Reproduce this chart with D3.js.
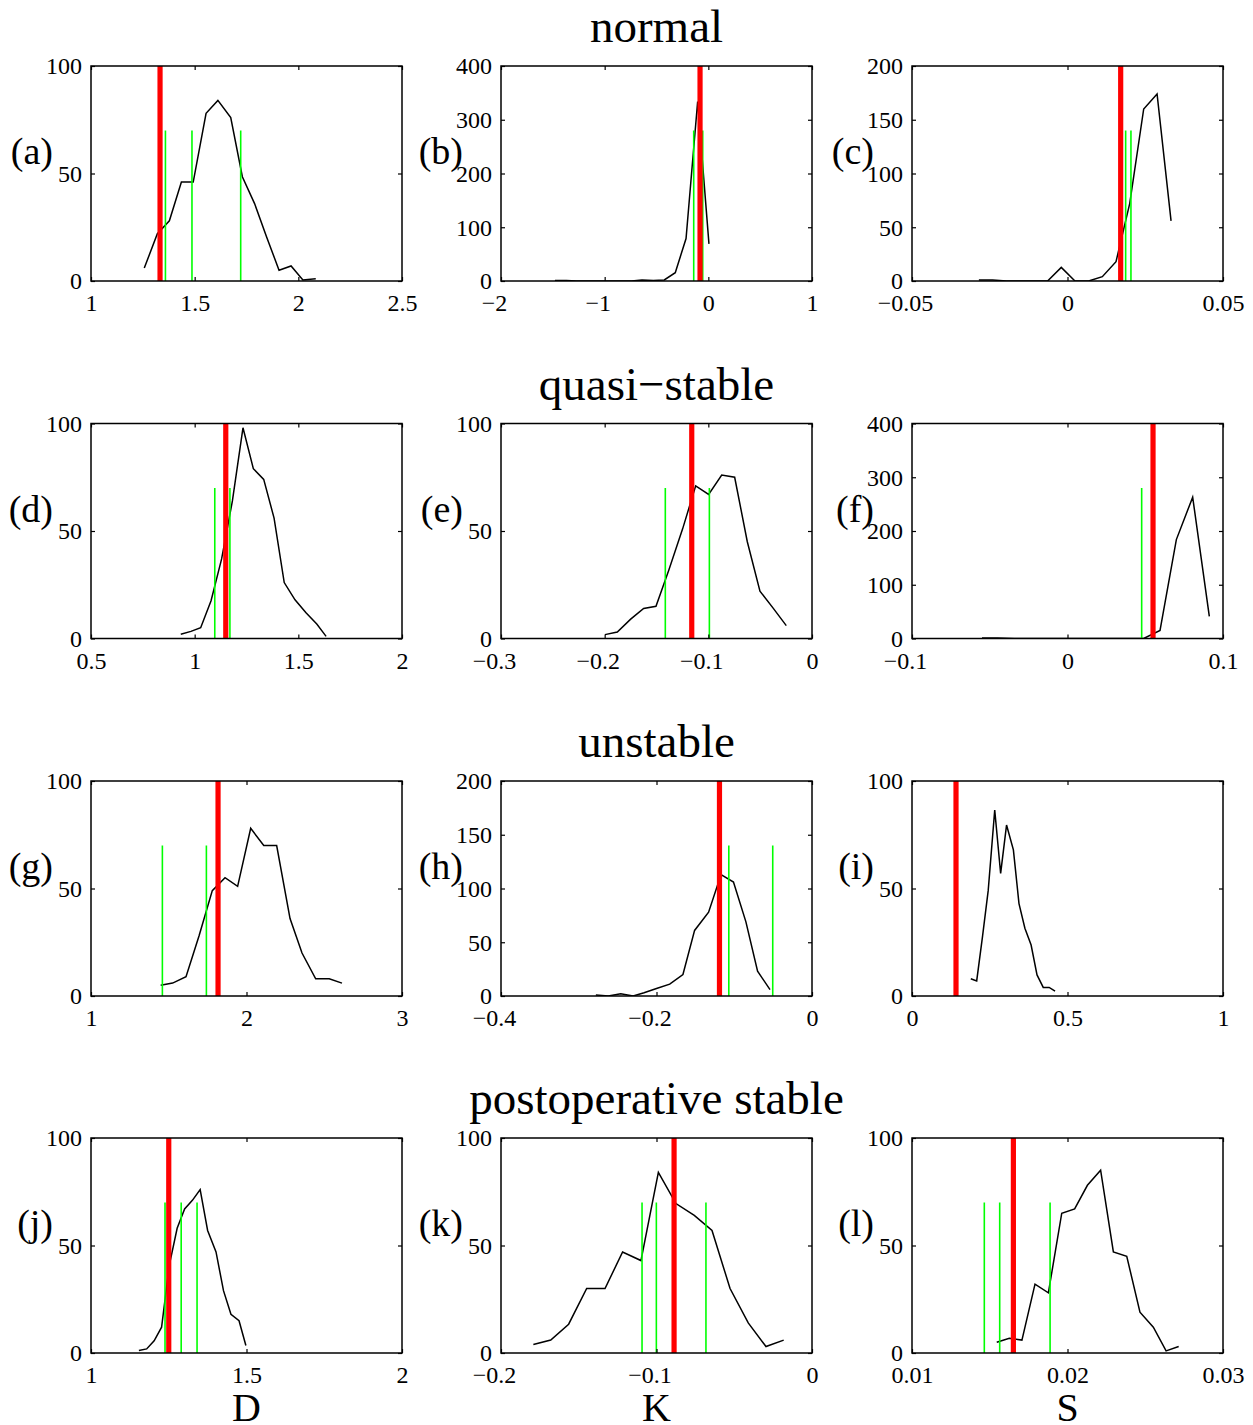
<!DOCTYPE html>
<html>
<head>
<meta charset="utf-8">
<script src="https://cdn.jsdelivr.net/npm/d3@7"></script>
<style>
  html, body { margin: 0; padding: 0; background: #fff; }
  svg { display: block; }
  text { font-family: "Liberation Serif", "Times New Roman", serif; fill: #000; }
</style>
</head>
<body>
<svg id="chart" width="1253" height="1425"></svg>
<script>
// ---------- data ----------
const rowTitles = ["normal", "quasi\u2212stable", "unstable", "postoperative stable"];
const colLabels = ["D", "K", "S"];
const panelLabels = ["(a)", "(b)", "(c)", "(d)", "(e)", "(f)", "(g)", "(h)", "(i)", "(j)", "(k)", "(l)"];

// x domains and tick values per panel
const xDomains = [[1, 2.5], [-2, 1], [-0.05, 0.05],
                  [0.5, 2], [-0.3, 0], [-0.1, 0.1],
                  [1, 3], [-0.4, 0], [0, 1],
                  [1, 2], [-0.2, 0], [0.01, 0.03]];
const xTickValues = [[1, 1.5, 2, 2.5], [-2, -1, 0, 1], [-0.05, 0, 0.05],
                     [0.5, 1, 1.5, 2], [-0.3, -0.2, -0.1, 0], [-0.1, 0, 0.1],
                     [1, 2, 3], [-0.4, -0.2, 0], [0, 0.5, 1],
                     [1, 1.5, 2], [-0.2, -0.1, 0], [0.01, 0.02, 0.03]];
const xTickLabels = [["1", "1.5", "2", "2.5"], ["\u22122", "\u22121", "0", "1"], ["\u22120.05", "0", "0.05"],
                     ["0.5", "1", "1.5", "2"], ["\u22120.3", "\u22120.2", "\u22120.1", "0"], ["\u22120.1", "0", "0.1"],
                     ["1", "2", "3"], ["\u22120.4", "\u22120.2", "0"], ["0", "0.5", "1"],
                     ["1", "1.5", "2"], ["\u22120.2", "\u22120.1", "0"], ["0.01", "0.02", "0.03"]];
const yMax = [100, 400, 200, 100, 100, 400, 100, 200, 100, 100, 100, 100];
const yTickValues = [[0, 50, 100], [0, 100, 200, 300, 400], [0, 50, 100, 150, 200],
                     [0, 50, 100], [0, 50, 100], [0, 100, 200, 300, 400],
                     [0, 50, 100], [0, 50, 100, 150, 200], [0, 50, 100],
                     [0, 50, 100], [0, 50, 100], [0, 50, 100]];

// histogram curves (bin centres, counts)
const binsA = [1.257, 1.320, 1.378, 1.436, 1.493, 1.555, 1.612, 1.674, 1.730, 1.789, 1.847, 1.907, 1.965, 2.022, 2.084];
const countsA = [6, 22, 28, 46, 46, 78, 84, 76, 48.5, 36, 20.5, 5, 7, 0.5, 1];
const binsB = [-1.48, -1.37, -1.27, -1.16, -1.06, -0.95, -0.85, -0.74, -0.64, -0.53, -0.425, -0.319, -0.215, -0.103, 0.006];
const countsB = [1, 1, 0, 0, 0, 0, 0, 0, 2, 1, 2, 15.5, 79, 334, 69];
const binsC = [-0.0285, -0.0241, -0.0196, -0.0152, -0.0108, -0.0064, -0.0020, 0.0024, 0.0068, 0.0112, 0.0156, 0.0200, 0.0245, 0.0288, 0.0333];
const countsC = [1, 1, 0, 0, 0, 0, 12.7, 0, 0, 4, 18, 72, 160, 174, 56];
const binsD = [0.933, 0.982, 1.029, 1.079, 1.130, 1.182, 1.233, 1.283, 1.333, 1.383, 1.432, 1.484, 1.537, 1.589, 1.634];
const countsD = [2, 3.3, 5, 17.6, 37, 64, 98, 79, 74, 56, 26, 18, 12, 6.7, 1];
const binsE = [-0.1997, -0.1878, -0.1749, -0.1624, -0.1505, -0.138, -0.1248, -0.1122, -0.0997, -0.0871, -0.0746, -0.0624, -0.0502, -0.0373, -0.0248];
const countsE = [1.8, 3, 9, 14, 15, 32, 51, 71, 67, 76, 75, 45, 22, 14, 6];
const binsF = [-0.055, -0.045, -0.034, -0.024, -0.013, -0.003, 0.007, 0.018, 0.028, 0.039, 0.049, 0.0595, 0.070, 0.0805, 0.0912];
const countsF = [1, 1, 0, 0, 0, 0, 0, 0, 0, 0, 0, 15, 184, 263, 41];
const binsG = [1.448, 1.525, 1.611, 1.695, 1.780, 1.862, 1.943, 2.027, 2.111, 2.194, 2.280, 2.357, 2.445, 2.532, 2.614];
const countsG = [5, 6, 9, 28, 49, 55, 51, 78, 70, 70, 36, 20, 8, 8, 6];
const binsH = [-0.278, -0.262, -0.246, -0.230, -0.216, -0.200, -0.183, -0.166, -0.151, -0.133, -0.117, -0.101, -0.085, -0.070, -0.054];
const countsH = [1, 0, 2, 0, 3, 7, 11, 20, 61, 78, 113, 106, 69, 23, 6];
const binsI = [0.189, 0.208, 0.227, 0.245, 0.266, 0.285, 0.304, 0.326, 0.344, 0.363, 0.383, 0.402, 0.422, 0.441, 0.460];
const countsI = [8, 7, 28, 49, 86.5, 57, 79.5, 68, 43, 31.5, 23.7, 9.8, 4, 4, 2.3];
const binsJ = [1.154, 1.179, 1.203, 1.227, 1.252, 1.277, 1.301, 1.326, 1.351, 1.375, 1.402, 1.426, 1.450, 1.476, 1.498];
const countsJ = [1.2, 1.9, 5.7, 12, 41, 58, 67, 71, 76, 57, 47, 29, 18, 15, 3.5];
const binsK = [-0.1792, -0.168, -0.1565, -0.1449, -0.1331, -0.1218, -0.11, -0.0988, -0.0875, -0.0757, -0.0643, -0.0527, -0.041, -0.0296, -0.0182];
const countsK = [4, 6, 13.4, 30, 30, 47, 43, 84, 69.5, 64, 57, 30, 14, 3, 6];
const binsL = [0.01545, 0.01626, 0.01707, 0.01791, 0.01877, 0.01963, 0.02046, 0.02128, 0.02213, 0.02295, 0.02381, 0.02466, 0.02552, 0.02634, 0.02715];
const countsL = [5, 6.9, 6, 32, 28, 65, 67, 78, 85, 47, 45, 19, 12, 1, 3];

// reference markers: green (thin, partial height) and red (thick, full height)
const greenLines = [[1.359, 1.487, 1.722], [-0.141, -0.054], [0.0187, 0.0204],
                    [1.097, 1.170], [-0.1415, -0.099], [0.0477],
                    [1.459, 1.742], [-0.107, -0.0505], [],
                    [1.238, 1.290, 1.341], [-0.1093, -0.1001, -0.0682], [0.01465, 0.01564, 0.01888]];
const greenTop = [70, 280, 140, 70, 70, 280, 70, 140, 70, 70, 70, 70];
const redLines = [1.333, -0.080, 0.0171, 1.150, -0.116, 0.055, 1.817, -0.119, 0.1415, 1.25, -0.0887, 0.01652];

const allBins = [binsA, binsB, binsC, binsD, binsE, binsF, binsG, binsH, binsI, binsJ, binsK, binsL];
const allCounts = [countsA, countsB, countsC, countsD, countsE, countsF, countsG, countsH, countsI, countsJ, countsK, countsL];

// ---------- layout ----------
const colLeft = [91, 501, 912];
const rowTop = [66, 423.5, 781, 1138];
const pw = 311, ph = 215;

const svg = d3.select("#chart");

rowTitles.forEach((t, r) => {
  svg.append("text")
    .attr("x", 656.5).attr("y", rowTop[r] - 24)
    .attr("text-anchor", "middle")
    .attr("font-size", 47)
    .text(t);
});

colLabels.forEach((t, c) => {
  svg.append("text")
    .attr("x", colLeft[c] + pw / 2).attr("y", 1421)
    .attr("text-anchor", "middle")
    .attr("font-size", 40)
    .text(t);
});

for (let i = 0; i < 12; i++) {
  const r = Math.floor(i / 3), c = i % 3;
  const g = svg.append("g").attr("transform", `translate(${colLeft[c]},${rowTop[r]})`);
  const x = d3.scaleLinear().domain(xDomains[i]).range([0, pw]);
  const y = d3.scaleLinear().domain([0, yMax[i]]).range([ph, 0]);

  const clipId = "clip" + i;
  g.append("clipPath").attr("id", clipId)
    .append("rect").attr("width", pw).attr("height", ph);
  const plot = g.append("g").attr("clip-path", `url(#${clipId})`);

  const pts = allBins[i].map((b, k) => [b, allCounts[i][k]]);
  plot.append("path")
    .datum(pts)
    .attr("fill", "none")
    .attr("stroke", "#000")
    .attr("stroke-width", 1.5)
    .attr("stroke-linejoin", "miter")
    .attr("d", d3.line().x(d => x(d[0])).y(d => y(d[1])));

  plot.selectAll("line.green")
    .data(greenLines[i])
    .join("line")
    .attr("class", "green")
    .attr("x1", d => x(d)).attr("x2", d => x(d))
    .attr("y1", y(0)).attr("y2", y(greenTop[i]))
    .attr("stroke", "#00ff00")
    .attr("stroke-width", 1.6);

  plot.append("line")
    .attr("x1", x(redLines[i])).attr("x2", x(redLines[i]))
    .attr("y1", y(0)).attr("y2", y(yMax[i]))
    .attr("stroke", "#ff0000")
    .attr("stroke-width", 5.2);

  // axes: inward ticks on all four sides, labels on left & bottom
  const tickLen = 4;
  const xb = g.append("g").attr("transform", `translate(0,${ph})`)
    .call(d3.axisBottom(x).tickValues(xTickValues[i]).tickSizeInner(-tickLen).tickSizeOuter(0)
      .tickFormat((d, k) => xTickLabels[i][k]));
  const xt = g.append("g")
    .call(d3.axisTop(x).tickValues(xTickValues[i]).tickSizeInner(-tickLen).tickSizeOuter(0).tickFormat(""));
  const yl = g.append("g")
    .call(d3.axisLeft(y).tickValues(yTickValues[i]).tickSizeInner(-tickLen).tickSizeOuter(0)
      .tickFormat(d3.format("d")));
  const yr = g.append("g").attr("transform", `translate(${pw},0)`)
    .call(d3.axisRight(y).tickValues(yTickValues[i]).tickSizeInner(-tickLen).tickSizeOuter(0).tickFormat(""));

  [xb, xt, yl, yr].forEach(a => {
    a.select(".domain").remove();
    a.selectAll(".tick line").attr("stroke", "#000").attr("stroke-width", 1.2);
    a.selectAll("text").attr("font-family", "Liberation Serif").attr("font-size", 24).attr("fill", "#000");
  });
  xb.selectAll(".tick text")
    .attr("y", 30).attr("dy", 0)
    .attr("dx", (d, k) => xTickLabels[i][k].startsWith("\u2212") ? -7 : 0);
  yl.selectAll(".tick text").attr("x", -9).attr("dy", "0.33em");

  g.append("rect")
    .attr("width", pw).attr("height", ph)
    .attr("fill", "none").attr("stroke", "#000").attr("stroke-width", 1.5);

  g.append("text")
    .attr("x", -38).attr("y", 98)
    .attr("text-anchor", "end")
    .attr("font-size", 38)
    .text(panelLabels[i]);
}
</script>
</body>
</html>
